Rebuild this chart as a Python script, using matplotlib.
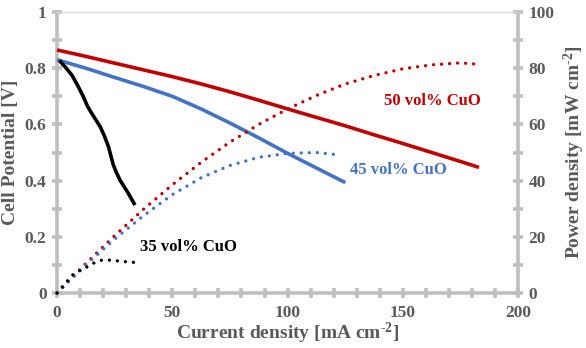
import matplotlib
matplotlib.use("Agg")
import matplotlib.pyplot as plt
from matplotlib.ticker import MultipleLocator

plt.rcParams["mathtext.fontset"] = "custom"
plt.rcParams["mathtext.rm"] = "Liberation Serif:bold"
plt.rcParams["mathtext.bf"] = "Liberation Serif:bold"
plt.rcParams["mathtext.it"] = "Liberation Serif:bold"
plt.rcParams["mathtext.default"] = "rm"

# ---- data ----
i50 = [0, 12.5, 25, 37.5, 50, 62.5, 75, 87.5, 100, 112.5, 125, 137.5, 150, 162.5, 175, 183]
v50 = [0.865, 0.842, 0.818, 0.794, 0.770, 0.744, 0.716, 0.686, 0.655, 0.625,
       0.595, 0.563, 0.532, 0.500, 0.468, 0.447]
ip50 = [0, 12.5, 25, 37.5, 50, 62.5, 75, 87.5, 100, 112.5, 125, 137.5, 150, 162.5, 175, 181]
p50 = [0, 10.5, 20.4, 29.8, 38.5, 46.5, 53.7, 60.0, 65.5, 70.3, 74.4, 77.4,
       79.8, 81.2, 81.9, 81.5]

i45 = [0, 12.5, 25, 37.5, 50, 62.5, 75, 87.5, 100, 112.5, 125]
v45 = [0.830, 0.800, 0.767, 0.735, 0.700, 0.655, 0.605, 0.552, 0.497, 0.445, 0.393]
ip45 = [0, 12.5, 25, 37.5, 50, 62.5, 75, 87.5, 100, 112.5, 123]
p45 = [0, 10.0, 19.2, 27.5, 35.0, 41.0, 45.4, 48.3, 49.7, 50.0, 49.1]

i35 = [1, 3.5, 6.4, 9, 11.4, 13.2, 15, 18.7, 20.5, 22.3, 24.4, 25.8, 27.3, 30.9, 33.8]
v35 = [0.827, 0.805, 0.776, 0.738, 0.699, 0.665, 0.640, 0.592, 0.560, 0.521,
       0.456, 0.428, 0.402, 0.355, 0.313]
ip35 = [0, 3.5, 7, 9.5, 12, 15.8, 19.4, 23, 26.6, 30.2, 33.4]
p35 = [0, 3.3, 6.6, 7.8, 8.8, 10.6, 11.7, 11.7, 11.4, 11.1, 10.9]

labels = ["50 vol% CuO", "45 vol% CuO", "35 vol% CuO"]
colors = ["#C00000", "#4472C4", "#000000"]

gray = "#BFBFBF"
tgray = "#595959"
serif = ["Liberation Serif", "DejaVu Serif"]

fig = plt.figure(figsize=(5.86, 3.48), dpi=100)
ax = fig.add_axes([0.0973, 0.158, 0.787, 0.8075])
ax2 = ax.twinx()

lw = 2.6
dot = (0, (0.01, 2.4))
for (i, v, ip, p, c) in [(i50, v50, ip50, p50, colors[0]),
                         (i45, v45, ip45, p45, colors[1]),
                         (i35, v35, ip35, p35, colors[2])]:
    ax.plot(i, v, color=c, lw=lw, solid_capstyle="butt", solid_joinstyle="round",
            clip_on=False, zorder=3)
    ax2.plot(ip, p, color=c, lw=2.4, linestyle=dot, dash_capstyle="round",
             clip_on=False, zorder=3)

ax.set_xlim(0, 200)
ax.set_ylim(0, 1)
ax2.set_ylim(0, 100)

ax.xaxis.set_major_locator(MultipleLocator(50))
ax.xaxis.set_minor_locator(MultipleLocator(10))
ax.yaxis.set_major_locator(MultipleLocator(0.2))
ax.yaxis.set_minor_locator(MultipleLocator(0.1))
ax2.yaxis.set_major_locator(MultipleLocator(20))
ax2.yaxis.set_minor_locator(MultipleLocator(10))

ax.set_yticks([0, 0.2, 0.4, 0.6, 0.8, 1.0])
ax.set_yticklabels(["0", "0.2", "0.4", "0.6", "0.8", "1"])

for a in (ax, ax2):
    for s in a.spines.values():
        s.set_visible(False)
ax.spines["left"].set_visible(True)
ax.spines["bottom"].set_visible(True)
ax2.spines["right"].set_visible(True)
ax2.spines["top"].set_visible(True)
for s in (ax.spines["left"], ax.spines["bottom"], ax2.spines["right"]):
    s.set_color(gray)
    s.set_linewidth(2.6)
ax2.spines["top"].set_color("#D9D9D9")
ax2.spines["top"].set_linewidth(0.8)

tk = dict(direction="inout", color=gray, width=2.6, length=7,
          labelcolor=tgray, labelsize=12.5)
ax.tick_params(axis="both", which="both", **tk)
ax2.tick_params(axis="y", which="both", **tk)
ax.tick_params(axis="x", pad=5)
ax.tick_params(axis="y", pad=4)
ax2.tick_params(axis="y", pad=4)

for lab in ax.get_xticklabels() + ax.get_yticklabels() + ax2.get_yticklabels():
    lab.set_fontfamily(serif)
    lab.set_fontweight("bold")

ax.set_xlabel("Current density [mA cm$^{\u2010 2}$]", fontsize=14,
              fontweight="bold", color=tgray, family=serif, labelpad=0)
ax.set_ylabel("Cell Potential [V]", fontsize=14, fontweight="bold",
              color=tgray, family=serif, labelpad=4)
ax2.set_ylabel("Power density [mW cm$^{\u2010 2}$]", fontsize=14,
               fontweight="bold", color=tgray, family=serif, labelpad=5)

ax.text(163, 0.683, labels[0], color=colors[0], fontsize=12, fontweight="bold",
        family=serif, ha="center", va="center")
ax.text(148, 0.438, labels[1], color=colors[1], fontsize=12, fontweight="bold",
        family=serif, ha="center", va="center")
ax.text(57, 0.164, labels[2], color=colors[2], fontsize=12, fontweight="bold",
        family=serif, ha="center", va="center")

fig.savefig("out.png", dpi=100)
